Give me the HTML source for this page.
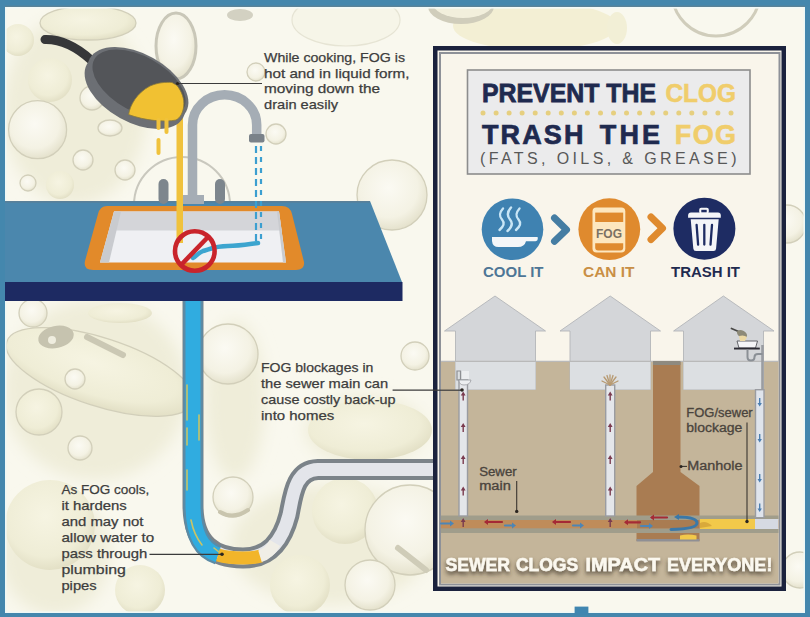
<!DOCTYPE html>
<html><head><meta charset="utf-8"><title>FOG</title>
<style>
html,body{margin:0;padding:0;width:810px;height:617px;overflow:hidden;background:#f9f8ee}
svg{display:block}
text{font-family:"Liberation Sans",sans-serif}
</style></head><body>
<svg width="810" height="617" viewBox="0 0 810 617">
<defs>
<filter id="soft" x="-20%" y="-20%" width="140%" height="140%"><feGaussianBlur stdDeviation="8"/></filter>
<filter id="tsh" x="-10%" y="-30%" width="120%" height="180%">
<feGaussianBlur in="SourceAlpha" stdDeviation="2.2"/>
<feOffset dx="0" dy="3" result="b"/>
<feFlood flood-color="#3b3226" flood-opacity="0.85"/>
<feComposite in2="b" operator="in"/>
<feMerge><feMergeNode/><feMergeNode in="SourceGraphic"/></feMerge>
</filter>
<clipPath id="panin"><ellipse cx="0" cy="0" rx="49" ry="25"/></clipPath>
<radialGradient id="bw" cx="45%" cy="40%" r="60%"><stop offset="0" stop-color="#fbfaf3"/><stop offset="0.7" stop-color="#f4f2e4"/><stop offset="1" stop-color="#e5e2cd"/></radialGradient>
<radialGradient id="by" cx="45%" cy="40%" r="60%"><stop offset="0" stop-color="#f6f4e2"/><stop offset="0.75" stop-color="#efedd6"/><stop offset="1" stop-color="#e3e0c6"/></radialGradient>
</defs>
<!-- background -->
<rect x="0" y="0" width="810" height="617" fill="#f9f8ee"/>
<g id="bubbles">
<g filter="url(#soft)" fill="#efedd9">
<ellipse cx="75" cy="110" rx="72" ry="95"/>
<ellipse cx="95" cy="390" rx="92" ry="90"/>
<ellipse cx="55" cy="555" rx="55" ry="60"/>
<ellipse cx="330" cy="545" rx="100" ry="60"/>
<ellipse cx="235" cy="400" rx="30" ry="80"/>
<ellipse cx="365" cy="430" rx="60" ry="35"/>
</g>
<circle cx="18" cy="40" r="16" fill="url(#by)"/>
<ellipse cx="88" cy="23" rx="48" ry="17" fill="url(#by)" stroke="#d2cfba" stroke-width="1.3"/>
<circle cx="50" cy="80" r="22" fill="url(#by)"/>
<circle cx="92" cy="98" r="12" fill="url(#bw)" stroke="#d2cfba" stroke-width="1.3"/>
<circle cx="37.6" cy="129.7" r="29" fill="url(#bw)" stroke="#d2cfba" stroke-width="1.3"/>
<circle cx="28" cy="183" r="8" fill="url(#bw)" stroke="#d2cfba" stroke-width="1.3"/>
<circle cx="83" cy="160" r="10" fill="url(#bw)" stroke="#d2cfba" stroke-width="1.3"/>
<ellipse cx="110" cy="128" rx="12" ry="8" fill="url(#bw)" stroke="#d2cfba" stroke-width="1.3"/>
<circle cx="60" cy="185" r="14" fill="url(#by)"/>
<circle cx="125" cy="170" r="10" fill="url(#bw)" stroke="#d2cfba" stroke-width="1.3"/>
<ellipse cx="176" cy="46" rx="20" ry="33" fill="url(#bw)" stroke="#c9c7b8" stroke-width="3"/>
<ellipse cx="240" cy="15" rx="13" ry="6" fill="#d3d1c2"/>
<circle cx="276" cy="134" r="10" fill="url(#bw)" stroke="#d2cfba" stroke-width="1.3"/>
<circle cx="256" cy="72" r="9" fill="url(#bw)" stroke="#d2cfba" stroke-width="1.3"/>
<ellipse cx="346" cy="20" rx="54" ry="26" fill="#f6f5e8" stroke="#e6e4d4" stroke-width="1.2"/>
<circle cx="392" cy="195" r="35" fill="url(#bw)" stroke="#d2cfba" stroke-width="1.3"/>



<ellipse cx="100" cy="372" rx="98" ry="34" fill="url(#by)" stroke="#d2cfba" stroke-width="1.3" transform="rotate(18 100 372)"/>
<circle cx="33" cy="313" r="14" fill="url(#bw)" stroke="#d2cfba" stroke-width="1.3"/>
<ellipse cx="120" cy="313" rx="32" ry="10" fill="url(#by)"/>
<circle cx="75" cy="379" r="10" fill="url(#bw)" stroke="#d2cfba" stroke-width="1.3"/>
<circle cx="39" cy="412" r="23" fill="url(#by)" stroke="#d2cfba" stroke-width="1.3"/>
<circle cx="80" cy="448" r="12" fill="url(#bw)" stroke="#d2cfba" stroke-width="1.3"/>
<circle cx="50" cy="525" r="45" fill="url(#by)"/>
<circle cx="228" cy="354" r="30" fill="url(#bw)" stroke="#d2cfba" stroke-width="1.3"/>
<circle cx="233" cy="497" r="20" fill="url(#bw)" stroke="#d2cfba" stroke-width="1.3"/>
<ellipse cx="370" cy="430" rx="62" ry="30" fill="url(#by)"/>
<circle cx="345" cy="511" r="33" fill="url(#by)"/>
<circle cx="410" cy="530" r="45" fill="url(#bw)" stroke="#d2cfba" stroke-width="1.3"/>
<circle cx="300" cy="585" r="30" fill="url(#by)"/>
<circle cx="370" cy="585" r="25" fill="url(#bw)" stroke="#d2cfba" stroke-width="1.3"/>
<circle cx="140" cy="590" r="25" fill="url(#by)"/>
<circle cx="415" cy="356" r="14" fill="url(#bw)" stroke="#d2cfba" stroke-width="1.3"/>
<circle cx="787" cy="224" r="19" fill="url(#bw)" stroke="#d2cfba" stroke-width="1.3"/>
<circle cx="800" cy="570" r="18" fill="url(#bw)" stroke="#d2cfba" stroke-width="1.3"/>
<ellipse cx="56" cy="337" rx="18" ry="11" fill="#c6c3af" transform="rotate(-12 56 337)"/>
<circle cx="52" cy="340" r="4" fill="#efeddf"/>
<path d="M87,337 L123,355" stroke="#cbc8b4" stroke-width="6" stroke-linecap="round"/>
<path d="M220,512 Q233,520 248,510" stroke="#c9c5ae" stroke-width="4" fill="none" stroke-linecap="round"/>
<path d="M398,548 L426,570" stroke="#cfccb8" stroke-width="6" stroke-linecap="round"/>
<circle cx="182" cy="205" r="48" fill="none" stroke="#c9c8be" stroke-width="2"/>
<ellipse cx="535" cy="26" rx="82" ry="24" fill="#f3efd4"/>
<ellipse cx="461" cy="6" rx="33" ry="18" fill="#d0cdbb"/>
<ellipse cx="463" cy="2" rx="31" ry="16" fill="#f2efdc"/>
<circle cx="716" cy="-8" r="44" fill="none" stroke="#d0cdbb" stroke-width="3"/>
<ellipse cx="617" cy="28" rx="10" ry="16" fill="#f2efd6"/>
</g>

<!-- frame -->
<rect x="0" y="7" width="810" height="1.6" fill="#f2faf8"/>
<rect x="5" y="0" width="1.6" height="617" fill="#eef8f6"/>
<rect x="803.4" y="0" width="1.6" height="617" fill="#eef8f6"/>
<rect x="0" y="611.4" width="810" height="1.6" fill="#eef8f6"/>
<rect x="0" y="0" width="810" height="6" fill="#4487ad"/>
<rect x="0" y="5.6" width="810" height="1.4" fill="#5a8398"/>
<rect x="0" y="0" width="5" height="617" fill="#4487ad"/>
<rect x="805" y="0" width="5" height="617" fill="#4487ad"/>
<rect x="0" y="613" width="810" height="4" fill="#4487ad"/>
<rect x="574.6" y="606.6" width="13.8" height="8" fill="#4086b0"/>

<!-- counter -->
<polygon points="5,201 370,201 402,282 5,282" fill="#4b87ad"/>
<rect x="5" y="282" width="397.5" height="19" fill="#1d2a62"/>
<rect x="5" y="201" width="365" height="1.6" fill="#5a8099"/>

<!-- sink -->
<path d="M107,206 L282,206 Q290,206 292,214 L304,262 Q305,270 296,270 L93,270 Q83,270 85,261 L98,214 Q100,206 107,206 Z" fill="#e28a2a"/>
<polygon points="114,211.5 279,211.5 286,262.5 100,262.5" fill="#eff0f3"/>
<polygon points="114,211.5 279,211.5 281.5,230.5 111,230.5" fill="#d4d5d9"/>
<polygon points="114,211.5 121,211.5 109,262.5 100,262.5" fill="#c9cbcf"/>
<polygon points="277,211.5 279,211.5 286,262.5 283,262.5" fill="#c9cbcf"/>

<!-- faucet -->
<rect x="158.5" y="179" width="10" height="25" rx="5" fill="#7d868d"/>
<rect x="215" y="179" width="10" height="25" rx="5" fill="#7d868d"/>
<path d="M192.5,196 L192.5,125 A32.1,30.2 0 0 1 256.7,125 L256.7,136" fill="none" stroke="#a5adb5" stroke-width="9.5"/>
<rect x="249" y="134" width="15.5" height="8.5" rx="2" fill="#7a8289"/>
<rect x="182" y="195" width="22" height="9" fill="#a5adb5"/>

<!-- oil stream -->
<rect x="176.5" y="115" width="6.5" height="128" fill="#f0c23c"/>
<!-- water -->
<path d="M256,146 L256,242" stroke="#3c9fd0" stroke-width="2.2" stroke-dasharray="7,4" fill="none"/>
<path d="M261,146 L261,242" stroke="#3c9fd0" stroke-width="2.2" stroke-dasharray="5,6" fill="none"/>
<path d="M258,243 C250,244 240,246 228,246 C215,246 210,249 203,251 C198,253 196,256 193,258" stroke="#3ca5cf" stroke-width="4.5" fill="none" stroke-linecap="round"/>

<!-- prohibition -->
<circle cx="194.8" cy="251" r="19.8" fill="none" stroke="#c9242b" stroke-width="4.6"/>
<line x1="208" y1="237" x2="181" y2="265" stroke="#c9242b" stroke-width="4.6"/>

<!-- pan -->
<path d="M45,39.5 Q68,39 91,60" stroke="#363739" stroke-width="9" fill="none" stroke-linecap="round"/>
<ellipse cx="135" cy="91" rx="55" ry="31" transform="rotate(29 135 91)" fill="#6c6f74"/>
<ellipse cx="138" cy="85" rx="55" ry="31" transform="rotate(29 138 85)" fill="#6c6f74"/>
<ellipse cx="139" cy="84" rx="51" ry="27.5" transform="rotate(29 139 84)" fill="#535559"/>
<path d="M128.6,114.6 C130,105 137,93 150,86 C158,82.5 166,82 172,82.5 L177,85.4 C182,92 184.5,99 183.7,106 C183,113 180,118 176,120 C165,122.5 145,120.5 128.6,114.6 Z" fill="#f1c132" stroke="#8a7a3a" stroke-width="0.8"/>
<rect x="156.5" y="118" width="4" height="12" rx="2" fill="#f0c23c"/>
<rect x="164.5" y="118" width="4" height="16" rx="2" fill="#f0c23c"/>
<rect x="156.5" y="138" width="4" height="17" rx="2" fill="#f0c23c"/>

<!-- drain pipe -->
<path d="M193,301 L193,505 C193,545 215,558 243,558 C268,558 282,542 289,515 C293,495 295,470 318,469.5 L433,469.5" fill="none" stroke="#7b8389" stroke-width="21"/>
<path d="M193,301 L193,505 C193,545 215,558 243,558 C268,558 282,542 289,515 C293,495 295,470 318,469.5 L433,469.5" fill="none" stroke="#e3e5ea" stroke-width="13"/>
<path d="M193,301 L193,505 C193,535 203,550 218,555" fill="none" stroke="#5a8ba6" stroke-width="19.5"/>
<path d="M193,301 L193,505 C193,535 203,550 218,555" fill="none" stroke="#30ace0" stroke-width="15"/>
<path d="M218,555 C228,558 236,558 243,558 C250,558 256,557.5 261,556" fill="none" stroke="#f2b52a" stroke-width="13"/>
<path d="M260,556.3 C266,554.5 271,550 275,543" fill="none" stroke="#f0eee6" stroke-width="12"/>
<g stroke="#c9c466" stroke-width="1.6" fill="none" stroke-linecap="round">
<path d="M187,385 L187,420"/><path d="M187,428 L187,445"/><path d="M199,415 L199,440"/><path d="M187,470 L187,490"/><path d="M191,520 Q194,535 202,545"/><path d="M214,548 L219,552"/>
</g>
<!-- annotation text -->
<g fill="#3d3d3d" stroke="#3d3d3d" stroke-width="0.25">
<text x="264" y="61.9" font-size="13" textLength="141" lengthAdjust="spacingAndGlyphs">While cooking, FOG is</text>
<text x="264" y="77.6" font-size="13" textLength="145.5" lengthAdjust="spacingAndGlyphs">hot and in liquid form,</text>
<text x="264" y="93.3" font-size="13" textLength="116" lengthAdjust="spacingAndGlyphs">moving down the</text>
<text x="264" y="109.0" font-size="13" textLength="74" lengthAdjust="spacingAndGlyphs">drain easily</text>
<text x="261" y="371.6" font-size="12.7" textLength="112.3" lengthAdjust="spacingAndGlyphs">FOG blockages in</text>
<text x="261" y="387.7" font-size="12.7" textLength="127.1" lengthAdjust="spacingAndGlyphs">the sewer main can</text>
<text x="261" y="403.8" font-size="12.7" textLength="134.5" lengthAdjust="spacingAndGlyphs">cause costly back-up</text>
<text x="261" y="419.9" font-size="12.7" textLength="73.2" lengthAdjust="spacingAndGlyphs">into homes</text>
<text x="61.4" y="493.8" font-size="12.7" textLength="87.8" lengthAdjust="spacingAndGlyphs">As FOG cools,</text>
<text x="61.4" y="509.9" font-size="12.7" textLength="65.4" lengthAdjust="spacingAndGlyphs">it hardens</text>
<text x="61.4" y="526.0" font-size="12.7" textLength="82" lengthAdjust="spacingAndGlyphs">and may not</text>
<text x="61.4" y="542.1" font-size="12.7" textLength="92.7" lengthAdjust="spacingAndGlyphs">allow water to</text>
<text x="61.4" y="558.2" font-size="12.7" textLength="85.9" lengthAdjust="spacingAndGlyphs">pass through</text>
<text x="61.4" y="574.3" font-size="12.7" textLength="64.5" lengthAdjust="spacingAndGlyphs">plumbing</text>
<text x="61.4" y="590.4" font-size="12.7" textLength="35.3" lengthAdjust="spacingAndGlyphs">pipes</text>
</g>
<g stroke="#3b3b3b" stroke-width="1.2">
<line x1="177" y1="83.5" x2="262" y2="83.5"/>
<line x1="149.5" y1="554.3" x2="222" y2="554.3"/>
<line x1="392.6" y1="390.2" x2="462" y2="390.2"/>
</g>

<!-- right panel -->
<rect x="435.25" y="48.25" width="348.5" height="540.5" fill="#f9f5eb" stroke="#1b223d" stroke-width="4.5"/>
<rect x="440" y="53" width="339.5" height="531.5" fill="none" stroke="#8e9198" stroke-width="2"/>

<!-- title box -->
<rect x="467.5" y="70" width="282.5" height="104" fill="#ebebec" stroke="#8d8d8d" stroke-width="1.6"/>
<g font-weight="bold" font-size="26">
<text x="482" y="102" fill="#1f2a4f" stroke="#1f2a4f" stroke-width="0.8" textLength="174" lengthAdjust="spacingAndGlyphs">PREVENT THE</text>
<text x="665.5" y="102" fill="#f0cd6b" stroke="#f0cd6b" stroke-width="0.6" textLength="70.5" lengthAdjust="spacingAndGlyphs">CLOG</text>
<text x="482" y="143.5" fill="#1f2a4f" stroke="#1f2a4f" stroke-width="0.7" font-size="27" textLength="101.4" lengthAdjust="spacing">TRASH</text><text x="599.8" y="143.5" fill="#1f2a4f" stroke="#1f2a4f" stroke-width="0.7" font-size="27" textLength="60.2" lengthAdjust="spacing">THE</text>
<text x="674.8" y="143.5" fill="#f0cd6b" stroke="#f0cd6b" stroke-width="0.6" font-size="27" textLength="61.2" lengthAdjust="spacing">FOG</text>
</g>
<text x="480" y="164.4" fill="#585858" font-size="16" textLength="256.5" lengthAdjust="spacing">(FATS, OILS, &amp; GREASE)</text>
<g fill="#e6cf7f" id="dots"><circle cx="483.0" cy="113" r="2.5"/><circle cx="496.1" cy="113" r="2.5"/><circle cx="509.1" cy="113" r="2.5"/><circle cx="522.1" cy="113" r="2.5"/><circle cx="535.2" cy="113" r="2.5"/><circle cx="548.2" cy="113" r="2.5"/><circle cx="561.3" cy="113" r="2.5"/><circle cx="574.4" cy="113" r="2.5"/><circle cx="587.4" cy="113" r="2.5"/><circle cx="600.5" cy="113" r="2.5"/><circle cx="613.5" cy="113" r="2.5"/><circle cx="626.5" cy="113" r="2.5"/><circle cx="639.6" cy="113" r="2.5"/><circle cx="652.6" cy="113" r="2.5"/><circle cx="665.7" cy="113" r="2.5"/><circle cx="678.8" cy="113" r="2.5"/><circle cx="691.8" cy="113" r="2.5"/><circle cx="704.9" cy="113" r="2.5"/><circle cx="717.9" cy="113" r="2.5"/><circle cx="731.0" cy="113" r="2.5"/></g>

<!-- icons -->
<circle cx="512.5" cy="229.2" r="30.8" fill="#3f82b1"/>
<circle cx="609.3" cy="229.2" r="30.9" fill="#df8a2e"/>
<circle cx="704.4" cy="228.7" r="31" fill="#1e2c63"/>
<path d="M554.5,218 L566.5,229.7 L554.5,241.3" fill="none" stroke="#457da3" stroke-width="7" stroke-linecap="round" stroke-linejoin="round"/>
<path d="M651,217 L662.5,228.2 L651,239.5" fill="none" stroke="#df8a2e" stroke-width="7" stroke-linecap="round" stroke-linejoin="round"/>
<!-- cool it pan -->
<path d="M492,237 L537.6,237 Q538.5,241.2 535.5,241.2 L526,241.2 Q524.5,247 518,247 L498.5,247 Q492.5,247 492,241 Z" fill="#f4f6f8"/>
<g fill="none" stroke="#c9e6f6" stroke-width="2.4" stroke-linecap="round">
<path d="M503,208.5 C499,213 499,216 502,219.5 C505,223 504,226 499.5,230"/>
<path d="M511,207.5 C507,212 507,216 510,219.5 C513,223 512,227 507.5,231"/>
<path d="M519.5,208.5 C515.5,213 515.5,216 518.5,219.5 C521.5,223 520.5,226 516,230"/>
</g>
<!-- jar -->
<rect x="592.5" y="207.4" width="32.8" height="45.1" rx="4" fill="#fde7bf"/>
<rect x="595.2" y="212.6" width="28" height="9.4" fill="#df8a2e"/>
<path d="M595.2,243.2 L623.2,243.2 L623.2,247.5 Q623.2,250.4 620.2,250.4 L598.2,250.4 Q595.2,250.4 595.2,247.5 Z" fill="#df8a2e"/>
<text x="596" y="237.5" font-size="12.5" font-weight="bold" fill="#7b7163" textLength="26" lengthAdjust="spacingAndGlyphs">FOG</text>
<!-- trash -->
<rect x="699.2" y="207.8" width="9.6" height="6" rx="2" fill="#f4f5f8"/>
<rect x="701.3" y="209.8" width="5.4" height="2.8" fill="#1e2c63"/>
<path d="M688.1,217.8 L688.1,215.5 Q688.1,212.6 691,212.6 L718,212.6 Q720.8,212.6 720.8,215.5 L720.8,217.8 Z" fill="#f4f5f8"/>
<path d="M690.7,219.2 L718.7,219.2 L716.1,248.5 Q715.9,251 713.5,251 L696,251 Q693.5,251 693.3,248.5 Z" fill="#f4f5f8"/>
<g stroke="#1e2c63" stroke-width="2.3" stroke-linecap="round">
<line x1="696.6" y1="224.8" x2="698.1" y2="244.6"/>
<line x1="704.3" y1="224.8" x2="704.3" y2="244.6"/>
<line x1="712" y1="224.8" x2="710.5" y2="244.6"/>
</g>
<g font-weight="bold" font-size="14">
<text x="483" y="277" fill="#4e7696" textLength="60.5" lengthAdjust="spacingAndGlyphs">COOL IT</text>
<text x="583" y="277" fill="#c98f45" textLength="51.5" lengthAdjust="spacingAndGlyphs">CAN IT</text>
<text x="671" y="277" fill="#1f2a4f" textLength="69" lengthAdjust="spacingAndGlyphs">TRASH IT</text>
</g>

<!-- houses & ground -->
<rect x="441" y="361" width="337.5" height="222.5" fill="#c4b59a"/>
<g id="houses">
<path d="M444.5,331 L495,296 L545.5,331 L535.5,331 L535.5,389.5 L455.5,389.5 L455.5,331 Z" fill="#d4d6d9" stroke="#b3b5b9" stroke-width="0.9"/>
<path d="M560,331 L610.2,296 L660.5,331 L650.5,331 L650.5,389.5 L570,389.5 L570,331 Z" fill="#d4d6d9" stroke="#b3b5b9" stroke-width="0.9"/>
<path d="M673.6,331 L723.4,296 L774,331 L763.5,331 L763.5,389.5 L683.5,389.5 L683.5,331 Z" fill="#d4d6d9" stroke="#b3b5b9" stroke-width="0.9"/>
<rect x="455.5" y="362" width="80" height="27.5" fill="#dcdfe2"/>
<rect x="570" y="362" width="80.5" height="27.5" fill="#dcdfe2"/>
<rect x="683.5" y="362" width="80" height="27.5" fill="#dcdfe2"/>
</g>
<line x1="441" y1="361.3" x2="778.5" y2="361.3" stroke="#b9b9b9" stroke-width="1.2"/>

<!-- manhole -->
<path d="M653,362 L680.5,362 L680.5,472 L699.5,486 L699.5,541 L636.5,541 L636.5,486 L653,472 Z" fill="#a97c52"/>
<rect x="653" y="361" width="27.5" height="4" fill="#8e8a80"/>
<rect x="636.5" y="539" width="63" height="2.5" fill="#8f8f94"/>

<!-- sewer main -->
<rect x="441" y="515.5" width="337.5" height="17.5" fill="#a09d8b"/>
<rect x="441" y="520" width="337.5" height="8.3" fill="#bf8c5a"/>
<rect x="637" y="520" width="62" height="8.3" fill="#a97c52"/>
<path d="M700,519 L755,519 L755,529 L700,529 Z" fill="#f2c94a"/>
<path d="M700,523 Q706,520 712,526 L700,528 Z" fill="#d9a93a"/>
<rect x="755" y="519" width="23.5" height="10" fill="#d6dae2"/>
<path d="M680,535.5 Q688,533.5 696.5,535.5 L696.5,539.5 L680,539.5 Z" fill="#f2c94a"/>

<!-- vertical pipes -->
<g>
<rect x="459" y="380" width="8.5" height="136" fill="#e4e6ea" stroke="#9a9ca1" stroke-width="1.4"/>
<rect x="605.7" y="385" width="9" height="131" fill="#e4e6ea" stroke="#9a9ca1" stroke-width="1.4"/>
<rect x="755.5" y="389.7" width="8.5" height="128" fill="#dfe4ec" stroke="#9a9ca1" stroke-width="1.4"/>
<path d="M762.5,345 L762.5,390" stroke="#9a9ca1" stroke-width="2.6" fill="none"/>
</g>
<!-- up arrows (maroon) -->
<g fill="#7b3b4f" stroke="none">
<path d="M463.2,391.5 l-2.4,4 h1.7 v5 h1.4 v-5 h1.7 z"/>
<path d="M463.2,423.0 l-2.4,4 h1.7 v5 h1.4 v-5 h1.7 z"/>
<path d="M463.2,455.0 l-2.4,4 h1.7 v5 h1.4 v-5 h1.7 z"/>
<path d="M463.2,486.5 l-2.4,4 h1.7 v5 h1.4 v-5 h1.7 z"/>
<path d="M463.2,518.0 l-2.4,4 h1.7 v5 h1.4 v-5 h1.7 z"/>
<path d="M610.2,391.5 l-2.4,4 h1.7 v5 h1.4 v-5 h1.7 z"/>
<path d="M610.2,423.0 l-2.4,4 h1.7 v5 h1.4 v-5 h1.7 z"/>
<path d="M610.2,455.0 l-2.4,4 h1.7 v5 h1.4 v-5 h1.7 z"/>
<path d="M610.2,486.5 l-2.4,4 h1.7 v5 h1.4 v-5 h1.7 z"/>
<path d="M610.2,518.0 l-2.4,4 h1.7 v5 h1.4 v-5 h1.7 z"/>
</g>
<!-- down arrows blue in pipe 3 -->
<g fill="#4d7fb0">
<path d="M759.7,406.5 l-2.2,-3.5 h1.5 v-5 h1.4 v5 h1.5 z"/>
<path d="M759.7,442.5 l-2.2,-3.5 h1.5 v-5 h1.4 v5 h1.5 z"/>
<path d="M759.7,482.5 l-2.2,-3.5 h1.5 v-5 h1.4 v5 h1.5 z"/>
<path d="M759.7,512.0 l-2.2,-3.5 h1.5 v-5 h1.4 v5 h1.5 z"/>
</g>
<!-- flow arrows in main -->
<g stroke-width="2.2" fill="none" stroke-linecap="round">
<path d="M441,523.5 L451,523.5" stroke="#4d85b5"/>
<path d="M486,522 L502,522" stroke="#a52a35"/>
<path d="M505,525.5 L513,525.5" stroke="#4d85b5"/>
<path d="M554,522 L570,522" stroke="#a52a35"/>
<path d="M573,525.5 L581,525.5" stroke="#4d85b5"/>
<path d="M626,522.3 L640,522.3" stroke="#a52a35"/>
<path d="M641,526 L650,526" stroke="#4d85b5"/>
<path d="M652,517.5 L667,517.5" stroke="#a52a35"/>
<path d="M678,517 Q697,517 697,523 Q697,529 671,529.5" stroke="#3b78a8" stroke-width="3"/>
</g>
<g fill="#a52a35">
<path d="M484,522 l4,-3 v6 z"/><path d="M552,522 l4,-3 v6 z"/><path d="M624,522.3 l4,-3 v6 z"/><path d="M650,517.5 l4,-3 v6 z"/>
</g>
<g fill="#4d85b5">
<path d="M454,523.5 l-4,-3 v6 z"/><path d="M516,525.5 l-4,-3 v6 z"/><path d="M584,525.5 l-4,-3 v6 z"/><path d="M653,526 l-4,-3 v6 z"/>
<path d="M674,517 l5,-3 v6 z" fill="#3b78a8"/>
</g>

<!-- house fixtures -->
<g>
<path d="M457,371 h3.5 v9 h-3.5 z" fill="none" stroke="#8d8f93" stroke-width="1.2"/>
<path d="M462,371 h7 v8 h-7 z" fill="#eceef0"/>
<path d="M459,380 h12 q-1,5 -7,5 q-5,0 -5,-5 z" fill="#eceef0" stroke="#9a9ca1" stroke-width="0.8"/>
<g stroke="#b79a72" stroke-width="1.3" fill="none" stroke-linecap="round">
<path d="M610,385 L610,375"/><path d="M610,385 L604,377"/><path d="M610,385 L616,377"/><path d="M610,385 L602,381"/><path d="M610,385 L618,381"/><path d="M610,385 L607,375.5"/><path d="M610,385 L613,375.5"/>
</g>
<path d="M737,341 L757.5,341 L755.5,348 L739,348 Z" fill="#f4f5f7" stroke="#55575c" stroke-width="0.9"/>
<rect x="734" y="347.6" width="25.8" height="1.9" fill="#2b2b33"/>
<path d="M747.5,349.5 L747.5,357 Q747.5,360.5 751,360.5 Q754.5,360.5 754.5,357 Q754.5,354 758,354 L762.5,354" stroke="#8b9096" stroke-width="2" fill="none"/>
<path d="M731.5,328.5 L738.5,331.5" stroke="#4a4a48" stroke-width="1.8" stroke-linecap="round"/>
<ellipse cx="742" cy="334" rx="5.5" ry="3.5" transform="rotate(30 742 334)" fill="#8d8a78"/>
<path d="M739,336 Q744,334.5 747,337 L745,341 L740,341 Z" fill="#ecd9a4"/>
</g>

<!-- panel texts -->
<g fill="#4a443d" stroke="#4a443d" stroke-width="0.3" font-size="12">
<text x="479.2" y="476.4" textLength="37.5" lengthAdjust="spacingAndGlyphs">Sewer</text>
<text x="479.2" y="489.5" textLength="31.7" lengthAdjust="spacingAndGlyphs">main</text>
<text x="686.3" y="417" textLength="66.4" lengthAdjust="spacingAndGlyphs">FOG/sewer</text>
<text x="686.3" y="431.5" textLength="56" lengthAdjust="spacingAndGlyphs">blockage</text>
<text x="687.2" y="470.1" textLength="55.2" lengthAdjust="spacingAndGlyphs">Manhole</text>
</g>
<line x1="433" y1="390.2" x2="462" y2="390.2" stroke="#3b3b3b" stroke-width="1.2"/>
<g stroke="#3a3530" stroke-width="1.1">
<line x1="516.7" y1="481" x2="516.7" y2="511"/>
<line x1="747" y1="422.6" x2="747" y2="522"/>
<line x1="681" y1="466.4" x2="687" y2="466.4"/>
</g>
<g fill="#2a2520">
<circle cx="516.7" cy="511.4" r="1.7"/>
<circle cx="747" cy="521.5" r="1.7"/>
<circle cx="681" cy="466.4" r="1.5"/>
<circle cx="462" cy="390" r="1.8"/>
<circle cx="222" cy="554.2" r="1.8"/>
<circle cx="177.5" cy="83.5" r="1.6"/>
</g>

<g font-size="19" font-weight="bold" fill="#fbf8ef" stroke="#fbf8ef" stroke-width="0.5" filter="url(#tsh)"><text x="445.4" y="570.7" textLength="64.7" lengthAdjust="spacingAndGlyphs">SEWER</text><text x="515.9" y="570.7" textLength="62.2" lengthAdjust="spacingAndGlyphs">CLOGS</text><text x="585.6" y="570.7" textLength="74.5" lengthAdjust="spacingAndGlyphs">IMPACT</text><text x="666.9" y="570.7" textLength="105.5" lengthAdjust="spacingAndGlyphs">EVERYONE!</text></g>

</svg>
</body></html>
